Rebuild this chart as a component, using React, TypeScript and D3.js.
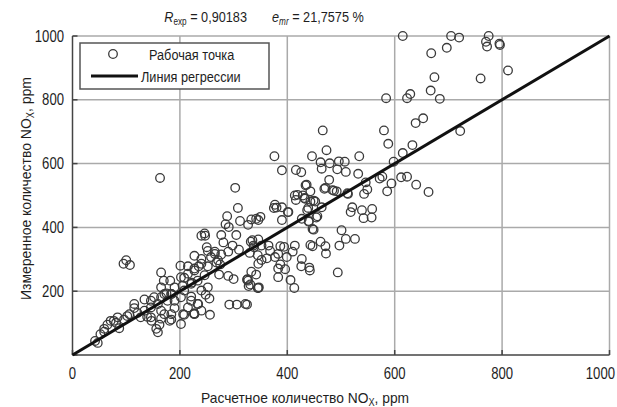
import React from "react";
import * as d3 from "d3";

// Calculated (x) vs measured (y) NOx concentrations, ppm
const calcNox: number[] = [
  615, 705, 720, 775, 770, 772, 795, 796, 697, 668, 811, 760, 674, 667, 684, 629, 623, 584, 653, 639,
  722, 580, 588, 633, 615, 598, 577, 612, 623, 594, 586, 640, 663, 572,
  466, 376, 446, 473, 534, 462, 479, 496, 507, 464, 493, 509, 532, 390, 416, 426, 478, 436, 546, 549,
  543, 471, 484, 492, 512, 443, 414, 432, 449, 416, 464, 437, 377, 375, 390, 401, 456, 521, 518, 539,
  558, 542, 557, 390, 440, 447, 501, 509, 526, 497, 443, 447, 462, 471, 472, 414, 427, 441, 442, 426,
  494, 406, 413, 346, 325, 342, 327, 331, 434, 419, 429, 443, 452, 439, 427, 454, 380, 402, 433, 469,
  487, 513, 440, 449,
  308, 288, 312, 342, 350, 285, 291, 247, 277, 305, 303, 346, 333, 327, 292, 306, 322, 256, 246, 240,
  383, 396, 383, 275, 273, 290, 300, 227, 246, 205, 222, 190, 281, 298, 290, 310, 332, 346, 337, 352,
  330, 345, 352, 365, 368, 362, 377, 387, 394, 383, 387, 399, 410, 258, 265, 250, 268, 252, 277, 227,
  240, 235, 215, 208, 170, 182, 165, 184, 202, 221, 234, 190, 208, 227, 171, 181, 202, 346, 333, 325,
  345, 338, 335, 255, 248, 252, 265, 271, 240, 347, 326, 328,
  100, 95, 107, 165, 201, 156, 159, 163,
  42, 47, 52, 59, 77, 84, 102, 115, 134, 146, 165, 175, 139, 147, 162, 184, 206, 226, 71, 65,
  59, 81, 87, 96, 106, 121, 134, 146, 165, 177, 159, 190, 127, 146, 165, 184, 215, 221, 208, 221,
  233, 240, 252, 233, 240, 227, 184, 171, 152, 115, 215, 202, 227,
];
const measNox: number[] = [
  1000, 1000, 995, 1000, 982, 967, 976, 972, 963, 946, 892, 867, 871, 829, 803, 818, 805, 805, 742, 727,
  702, 704, 662, 658, 633, 606, 559, 557, 559, 538, 513, 534, 511, 553,
  704, 623, 623, 642, 623, 604, 601, 607, 606, 584, 582, 574, 568, 579, 580, 573, 549, 534, 541, 519,
  505, 524, 517, 513, 507, 513, 500, 492, 484, 486, 463, 454, 471, 461, 463, 448, 435, 463, 448, 454,
  458, 429, 431, 423, 418, 395, 391, 364, 364, 343, 345, 341, 355, 341, 318, 343, 301, 274, 265, 278,
  259, 235, 210, 210, 158, 252, 233, 221, 532, 502, 500, 481, 481, 461, 427, 431, 462, 448, 490, 521,
  515, 505, 420, 393,
  461, 435, 420, 427, 433, 410, 401, 374, 376, 376, 524, 423, 425, 408, 158, 158, 160, 126, 381, 374,
  271, 269, 244, 284, 252, 248, 238, 271, 250, 217, 227, 212, 353, 343, 324, 330, 355, 362, 343, 343,
  320, 313, 298, 343, 326, 303, 307, 341, 339, 317, 284, 307, 324, 307, 324, 338, 290, 278, 315, 311,
  301, 278, 278, 242, 233, 233, 212, 191, 181, 183, 160, 147, 126, 130, 128, 107, 97, 286, 261, 236,
  210, 338, 360, 177, 189, 326, 317, 297, 286, 212, 238, 216,
  297, 286, 282, 259, 280, 82, 71, 555,
  44, 38, 65, 73, 107, 118, 122, 147, 174, 170, 181, 193, 120, 107, 95, 128, 128, 130, 107, 95,
  82, 101, 84, 111, 128, 132, 139, 149, 139, 170, 160, 170, 118, 118, 114, 111, 149, 170, 202, 223,
  233, 202, 212, 160, 139, 128, 191, 191, 181, 160, 255, 244, 265,
];

// Regression line endpoints (y = x)
const fitLine: [number, number][] = [
  [0, 0],
  [1000, 1000],
];

const axisTicks: number[] = [0, 200, 400, 600, 800, 1000];
const gridTicks: number[] = [200, 400, 600, 800];

const legendLabels: string[] = ["Рабочая точка", "Линия регрессии"];

const W = 617;
const H = 407;
const plot = { left: 72.5, right: 609.5, top: 36, bottom: 355 };
const FONT = "'Liberation Sans', Arial, sans-serif";
const INK = "#1e1e1e";
// horizontal squeeze that gives the narrow grotesque look of the labels
const SQ = 0.82;

type NProps = {
  x: number;
  y: number;
  size: number;
  anchor?: "start" | "middle" | "end";
  sx?: number;
  rotate?: number;
  children: React.ReactNode;
};

function NText({ x, y, size, anchor = "start", sx = SQ, rotate = 0, children }: NProps) {
  return (
    <g transform={`translate(${x},${y}) rotate(${rotate}) scale(${sx},1)`}>
      <text x={0} y={0} fontSize={size} textAnchor={anchor} fill={INK}>
        {children}
      </text>
    </g>
  );
}

export default function App() {
  const x = d3.scaleLinear().domain([0, 1000]).range([plot.left, plot.right]);
  const y = d3.scaleLinear().domain([0, 1000]).range([plot.bottom, plot.top]);
  const line = d3
    .line<[number, number]>()
    .x((d) => x(d[0]))
    .y((d) => y(d[1]));

  const points = calcNox.map((c, i) => [c, measNox[i]] as [number, number]);

  return (
    <svg
      width={W}
      height={H}
      style={{ position: "absolute", left: 0, top: 0, background: "#fff" }}
      fontFamily={FONT}
    >
      <rect x={0} y={0} width={W} height={H} fill="#fff" />

      {/* title */}
      <NText x={247} y={22} size={15.5} anchor="end">
        <tspan fontStyle="italic">R</tspan>
        <tspan fontSize={10} dy={3}>exp</tspan>
        <tspan dy={-3}> = 0,90183</tspan>
      </NText>
      <NText x={272} y={22} size={15.5}>
        <tspan fontStyle="italic">e</tspan>
        <tspan fontSize={10} dy={3} fontStyle="italic">mr</tspan>
        <tspan dy={-3}> = 21,7575 %</tspan>
      </NText>

      {/* grid */}
      {gridTicks.map((t) => (
        <line key={"gx" + t} x1={x(t)} x2={x(t)} y1={plot.top} y2={plot.bottom} stroke="#aaa" strokeWidth={1.5} />
      ))}
      {gridTicks.map((t) => (
        <line key={"gy" + t} x1={plot.left} x2={plot.right} y1={y(t)} y2={y(t)} stroke="#aaa" strokeWidth={1.5} />
      ))}
      {/* frame */}
      <line x1={plot.left} x2={plot.right} y1={plot.top} y2={plot.top} stroke="#aaa" strokeWidth={1.5} />
      <line x1={plot.right} x2={plot.right} y1={plot.top} y2={plot.bottom} stroke="#aaa" strokeWidth={1.5} />
      <line x1={plot.left} x2={plot.left} y1={plot.top} y2={plot.bottom} stroke="#444" strokeWidth={1.5} />
      <line x1={plot.left} x2={plot.right} y1={plot.bottom} y2={plot.bottom} stroke="#444" strokeWidth={1.5} />
      {axisTicks.map((t) => (
        <g key={"tk" + t}>
          <line x1={plot.left} x2={plot.left + 5} y1={y(t)} y2={y(t)} stroke="#444" strokeWidth={1.5} />
          <line x1={x(t)} x2={x(t)} y1={plot.bottom} y2={plot.bottom - 5} stroke="#444" strokeWidth={1.5} />
        </g>
      ))}

      {/* points */}
      {points.map((p, i) => (
        <circle key={i} cx={x(p[0])} cy={y(p[1])} r={4.3} fill="none" stroke="#3a3a3a" strokeWidth={1.3} />
      ))}

      {/* regression line */}
      <path d={line(fitLine) || ""} fill="none" stroke="#111" strokeWidth={3} />

      {/* tick labels */}
      {axisTicks.map((t) => (
        <NText
          key={"xl" + t}
          x={t === 1000 ? 615 : x(t)}
          y={plot.bottom + 24}
          size={16}
          anchor={t === 1000 ? "end" : "middle"}
        >
          {t}
        </NText>
      ))}
      {axisTicks
        .filter((t) => t > 0)
        .map((t) => (
          <NText key={"yl" + t} x={plot.left - 8.5} y={y(t) + 5.5} size={16} anchor="end">
            {t}
          </NText>
        ))}

      {/* axis titles */}
      <NText x={201} y={403} size={15} sx={0.92}>
        Расчетное количество NO<tspan fontSize={10} dy={3}>X</tspan>
        <tspan dy={-3}>, ppm</tspan>
      </NText>
      <NText x={31} y={300} size={15} sx={0.93} rotate={-90}>
        Измеренное количество NO<tspan fontSize={10} dy={3}>X</tspan>
        <tspan dy={-3}>, ppm</tspan>
      </NText>

      {/* legend */}
      <rect x={80} y={43} width={189} height={46} fill="#fff" stroke="#555" strokeWidth={1.5} />
      <circle cx={113} cy={54} r={4.3} fill="none" stroke="#3a3a3a" strokeWidth={1.3} />
      <NText x={149} y={60} size={15.5}>
        {legendLabels[0]}
      </NText>
      <line x1={91} x2={138} y1={76} y2={76} stroke="#111" strokeWidth={3} />
      <NText x={141} y={82} size={15.5}>
        {legendLabels[1]}
      </NText>
    </svg>
  );
}
